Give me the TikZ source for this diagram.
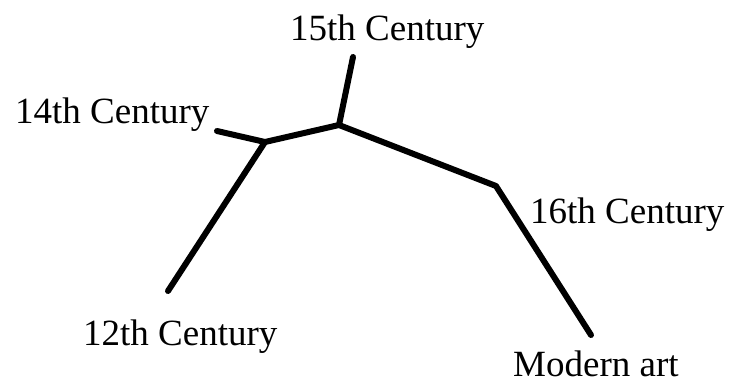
\documentclass[tikz,border=0pt]{standalone}
\usepackage{fontspec}
\setmainfont{Liberation Serif}
\begin{document}
\begin{tikzpicture}[x=1pt,y=-1pt,
  lbl/.style={anchor=base west,inner sep=0pt,font=\fontsize{37}{40}\selectfont},
  branch/.style={line width=6pt,line cap=round,line join=round}]
\useasboundingbox (0,0) rectangle (731,381);
\node[lbl] (t15) at (290,40) {15th Century};
\node[lbl] (t14) at (15,123) {14th Century};
\node[lbl] (t16) at (530,223) {16th Century};
\node[lbl] (t12) at (83,345) {12th Century};
\node[lbl,text depth=0pt] (tm) at (513,376) {Modern art};
\coordinate (e12) at (168,291);
\coordinate (e14) at (217,131);
\coordinate (e15) at (353,57);
\coordinate (em) at (591,335);
\coordinate (A) at (265,142);
\coordinate (B) at (339,125);
\coordinate (C) at (496,186);
\draw[branch] (e12) -- (A) -- (B) -- (C) -- (em);
\draw[branch] (e14) -- (A);
\draw[branch] (B) -- (e15);
\end{tikzpicture}
\end{document}
